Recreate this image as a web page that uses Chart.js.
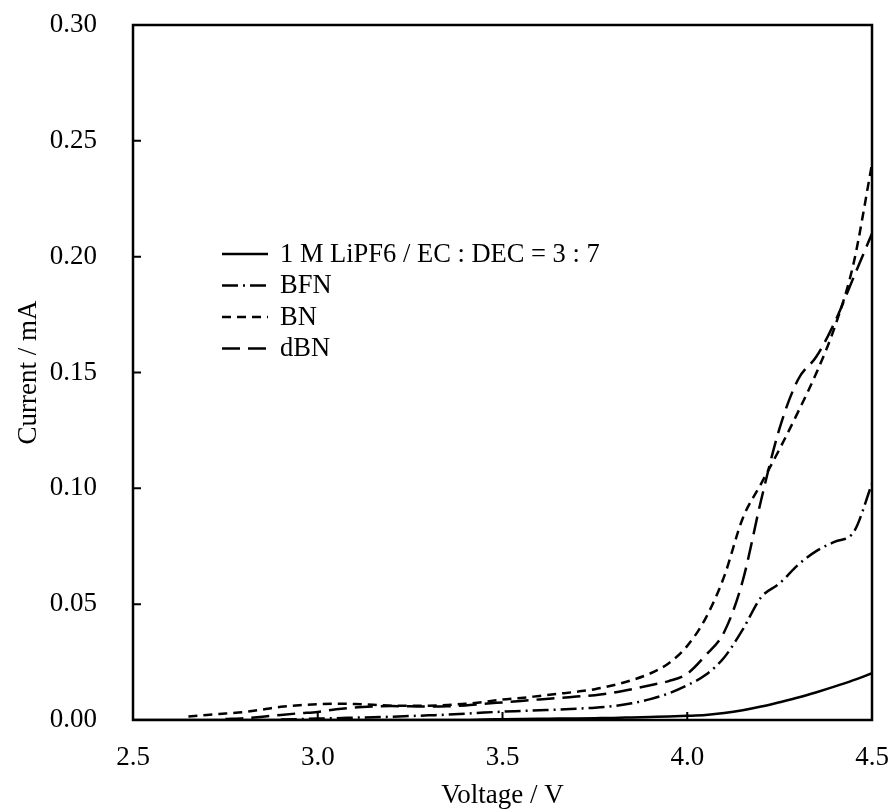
<!DOCTYPE html>
<html>
<head>
<meta charset="utf-8">
<script src="https://cdn.jsdelivr.net/npm/chart.js@4.4.1/dist/chart.umd.min.js"></script>
<style>
  html, body { margin: 0; padding: 0; background: #fff; }
  #wrap { width: 890px; height: 812px; }
</style>
</head>
<body>
<div id="wrap"><canvas id="lsv-chart"></canvas></div>
<script>
const voltage = [2.50, 2.55, 2.60, 2.65, 2.70, 2.75, 2.80, 2.85, 2.90, 2.95,
    3.00, 3.05, 3.10, 3.15, 3.20, 3.25, 3.30, 3.35, 3.40, 3.45,
    3.50, 3.55, 3.60, 3.65, 3.70, 3.75, 3.80, 3.85, 3.90, 3.95,
    4.00, 4.05, 4.10, 4.15, 4.20, 4.25, 4.30, 4.35, 4.40, 4.45, 4.50];

const baseline = [0, 0, 0, 0, 0, 0, 0, 0, 0, 0,
    0, 0, 0, 0, 0, 0, 0, 0, 0, 0.0002,
    0.0003, 0.0004, 0.0005, 0.0006, 0.0007, 0.0008, 0.0009, 0.0011, 0.0013, 0.0015,
    0.0018, 0.0022, 0.0030, 0.0042, 0.0058, 0.0077, 0.0097, 0.0120, 0.0145, 0.0172, 0.0202];

const bfn = [null, null, null, null, null, null, null, null, 0.0002, 0.0004,
    0.0006, 0.0008, 0.0010, 0.0012, 0.0014, 0.0017, 0.0020, 0.0023, 0.0027, 0.0032,
    0.0036, 0.0039, 0.0042, 0.0045, 0.0049, 0.0053, 0.0060, 0.0072, 0.0090, 0.0115,
    0.0150, 0.0195, 0.027, 0.039, 0.053, 0.059, 0.067, 0.073, 0.077, 0.081, 0.102];

const bn = [null, null, null, 0.0015, 0.0022, 0.0028, 0.0034, 0.0045, 0.0057, 0.0064,
    0.0068, 0.0070, 0.0069, 0.0066, 0.0062, 0.0061, 0.0062, 0.0065, 0.0070, 0.0078,
    0.0088, 0.0095, 0.0104, 0.0113, 0.0122, 0.0133, 0.0150, 0.0172, 0.0201, 0.0245,
    0.032, 0.044, 0.062, 0.087, 0.102, 0.117, 0.133, 0.150, 0.170, 0.197, 0.240];

const dbn = [null, null, null, null, null, 0.0004, 0.0008, 0.0014, 0.0022, 0.0029,
    0.0035, 0.0046, 0.0054, 0.0058, 0.0060, 0.0059, 0.0058, 0.0059, 0.0063, 0.0070,
    0.0076, 0.0082, 0.0089, 0.0095, 0.0101, 0.0107, 0.0118, 0.0133, 0.0150, 0.0168,
    0.020, 0.028, 0.038, 0.060, 0.095, 0.126, 0.147, 0.157, 0.172, 0.191, 0.210];

const seriesLabels = ['1 M LiPF6 / EC : DEC = 3 : 7', 'BFN', 'BN', 'dBN'];
const seriesValues = [baseline, bfn, bn, dbn];
const seriesDash = [[], [16, 5, 2, 5], [9, 6], [18, 8]];

const xTicks = [2.5, 3.0, 3.5, 4.0, 4.5];
const yTicks = [0, 0.05, 0.10, 0.15, 0.20, 0.25, 0.30];

const FONT = '"Liberation Serif", "Times New Roman", serif';

// frame, inward ticks and the legend inside the plot
const framePlugin = {
    id: 'frame',
    afterDatasetsDraw(chart) {
        const { ctx, chartArea: a, scales } = chart;
        ctx.save();
        ctx.strokeStyle = '#000';
        ctx.lineWidth = 2.5;
        ctx.strokeRect(a.left, a.top, a.right - a.left, a.bottom - a.top);
        ctx.lineWidth = 2;
        ctx.beginPath();
        xTicks.forEach(v => {
            const px = scales.x.getPixelForValue(v);
            ctx.moveTo(px, a.bottom);
            ctx.lineTo(px, a.bottom - 8);
        });
        yTicks.forEach(v => {
            const py = scales.y.getPixelForValue(v);
            ctx.moveTo(a.left, py);
            ctx.lineTo(a.left + 8, py);
        });
        ctx.stroke();

        // legend
        const lx = a.left + 89;
        const ly = a.top + 229;
        ctx.font = '26.5px ' + FONT;
        ctx.fillStyle = '#000';
        ctx.textBaseline = 'middle';
        chart.data.datasets.forEach((ds, i) => {
            const y = ly + i * 31.5;
            ctx.setLineDash(ds.borderDash || []);
            ctx.lineWidth = 2.5;
            ctx.beginPath();
            ctx.moveTo(lx, y);
            ctx.lineTo(lx + 46, y);
            ctx.stroke();
            ctx.setLineDash([]);
            ctx.fillText(ds.label, lx + 58, y + 1);
        });
        ctx.restore();
    }
};

new Chart(document.getElementById('lsv-chart'), {
    type: 'line',
    data: {
        datasets: seriesLabels.map((label, i) => ({
            label,
            data: voltage.map((v, j) => ({ x: v, y: seriesValues[i][j] })),
            borderColor: '#000',
            borderWidth: 2.5,
            borderDash: seriesDash[i],
            pointRadius: 0,
            fill: false,
            cubicInterpolationMode: 'monotone',
            spanGaps: false,
        }))
    },
    options: {
        responsive: true,
        maintainAspectRatio: false,
        animation: false,
        layout: { padding: { top: 25, right: 18, left: 9, bottom: 0 } },
        scales: {
            x: {
                type: 'linear',
                min: 2.5,
                max: 4.5,
                afterBuildTicks: (scale) => { scale.ticks = xTicks.map(v => ({ value: v })); },
                afterFit: (scale) => {
                    scale.height = 92;
                    scale.paddingLeft = 0;
                    scale.paddingRight = 0;
                },
                grid: { display: false },
                border: { display: false },
                ticks: {
                    color: '#000',
                    font: { family: FONT, size: 27 },
                    padding: 14,
                    maxRotation: 0,
                    callback: (v) => Number(v).toFixed(1)
                },
                title: {
                    display: true,
                    text: 'Voltage / V',
                    color: '#000',
                    font: { family: FONT, size: 27 },
                    padding: { top: 4, bottom: 0 }
                }
            },
            y: {
                min: 0,
                max: 0.3,
                afterBuildTicks: (scale) => { scale.ticks = yTicks.map(v => ({ value: v })); },
                afterFit: (scale) => {
                    scale.width = 124;
                    scale.paddingTop = 0;
                    scale.paddingBottom = 0;
                },
                grid: { display: false },
                border: { display: false },
                ticks: {
                    color: '#000',
                    font: { family: FONT, size: 27 },
                    padding: 28,
                    callback: (v) => Number(v).toFixed(2)
                },
                title: {
                    display: true,
                    text: 'Current / mA',
                    color: '#000',
                    font: { family: FONT, size: 27 },
                    padding: { bottom: 0 }
                }
            }
        },
        plugins: {
            legend: { display: false },
            tooltip: { enabled: false }
        }
    },
    plugins: [framePlugin]
});
</script>
</body>
</html>
